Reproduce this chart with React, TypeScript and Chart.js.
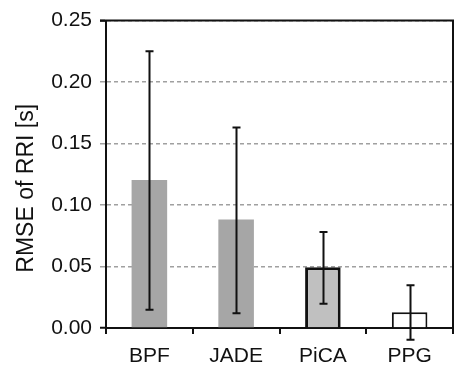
import React, { useEffect, useRef } from "react";
import { Chart, registerables } from "chart.js";

Chart.register(...registerables);

const categories = ["BPF", "JADE", "PiCA", "PPG"];
const rmse = [0.1204, 0.0883, 0.0494, 0.0128];
const errLow = [0.0149, 0.012, 0.0197, -0.0096];
const errHigh = [0.225, 0.163, 0.078, 0.0348];
const yTicks = [0, 0.05, 0.1, 0.15, 0.2, 0.25];
const barFill = ["#a6a6a6", "#a6a6a6", "#c0c0c0", "#ffffff"];
const barBorder = [0, 0, 3, 2];
const yTitle = "RMSE of RRI [s]";

const FONT = "'Liberation Sans', Arial, sans-serif";

const errorBarPlugin = {
  id: "errorBars",
  afterDatasetsDraw(chart: any) {
    const { ctx, scales } = chart;
    const x = scales.x;
    const y = scales.y;
    ctx.save();
    ctx.strokeStyle = "#111";
    ctx.lineWidth = 2;
    for (let i = 0; i < categories.length; i++) {
      const cx = Math.round(x.getPixelForValue(i)) + 0.5;
      const yl = y.getPixelForValue(errLow[i]);
      const yh = y.getPixelForValue(errHigh[i]);
      ctx.beginPath();
      ctx.moveTo(cx, yl);
      ctx.lineTo(cx, yh);
      ctx.moveTo(cx - 4, yl);
      ctx.lineTo(cx + 4, yl);
      ctx.moveTo(cx - 4, yh);
      ctx.lineTo(cx + 4, yh);
      ctx.stroke();
    }
    const a = chart.chartArea;
    ctx.beginPath();
    ctx.moveTo(a.left - 6, a.top);
    ctx.lineTo(a.right, a.top);
    ctx.lineTo(a.right, a.bottom + 6);
    ctx.stroke();
    // y axis title
    ctx.translate(33, (a.top + a.bottom) / 2 + 14);
    ctx.rotate(-Math.PI / 2);
    ctx.fillStyle = "#111";
    ctx.font = `23px ${FONT}`;
    ctx.textAlign = "center";
    ctx.textBaseline = "alphabetic";
    ctx.fillText(yTitle, 0, 0);
    ctx.restore();
  },
};

export default function App() {
  const ref = useRef<HTMLCanvasElement | null>(null);
  useEffect(() => {
    if (!ref.current) return;
    const chart = new Chart(ref.current, {
      type: "bar",
      data: {
        labels: categories,
        datasets: [
          {
            data: rmse,
            backgroundColor: barFill,
            borderColor: "#111",
            borderWidth: barBorder,
            barPercentage: 0.41,
            categoryPercentage: 1,
          },
        ],
      },
      options: {
        animation: false,
        responsive: true,
        maintainAspectRatio: false,
        layout: { padding: { top: 17, right: 1, left: 0, bottom: 0 } },
        plugins: { legend: { display: false }, tooltip: { enabled: false } },
        scales: {
          x: {
            afterFit(scale: any) {
              scale.height = 40;
            },
            grid: {
              display: true,
              offset: true,
              drawOnChartArea: false,
              drawTicks: true,
              tickLength: 6,
              color: "#111",
              lineWidth: 2,
            },
            border: { display: true, color: "#111", width: 2 },
            ticks: {
              color: "#111",
              font: { family: FONT, size: 21 },
              padding: 10,
            },
          },
          y: {
            min: 0,
            max: 0.25,
            afterFit(scale: any) {
              scale.width = 106;
            },
            afterBuildTicks(scale: any) {
              scale.ticks = yTicks.map((v) => ({ value: v }));
            },
            grid: {
              display: true,
              drawTicks: true,
              tickLength: 6,
              color: "#a0a0a0",
              lineWidth: 1.5,
              tickColor: (c: any) =>
                c.tick && (c.tick.value === 0 || c.tick.value === 0.25) ? "#111" : "#a0a0a0",
              tickWidth: (c: any) =>
                c.tick && (c.tick.value === 0 || c.tick.value === 0.25) ? 2 : 1.5,
            },
            border: { display: true, color: "#111", width: 2, dash: [4, 3] },
            ticks: {
              color: "#111",
              font: { family: FONT, size: 21 },
              padding: 8,
              callback: (v: any) => Number(v).toFixed(2),
            },
          },
        },
      },
      plugins: [errorBarPlugin],
    } as any);
    return () => chart.destroy();
  }, []);
  return (
    <div style={{ position: "fixed", left: 0, top: 0, width: 454, height: 368, background: "#fff" }}>
      <canvas ref={ref} />
    </div>
  );
}
